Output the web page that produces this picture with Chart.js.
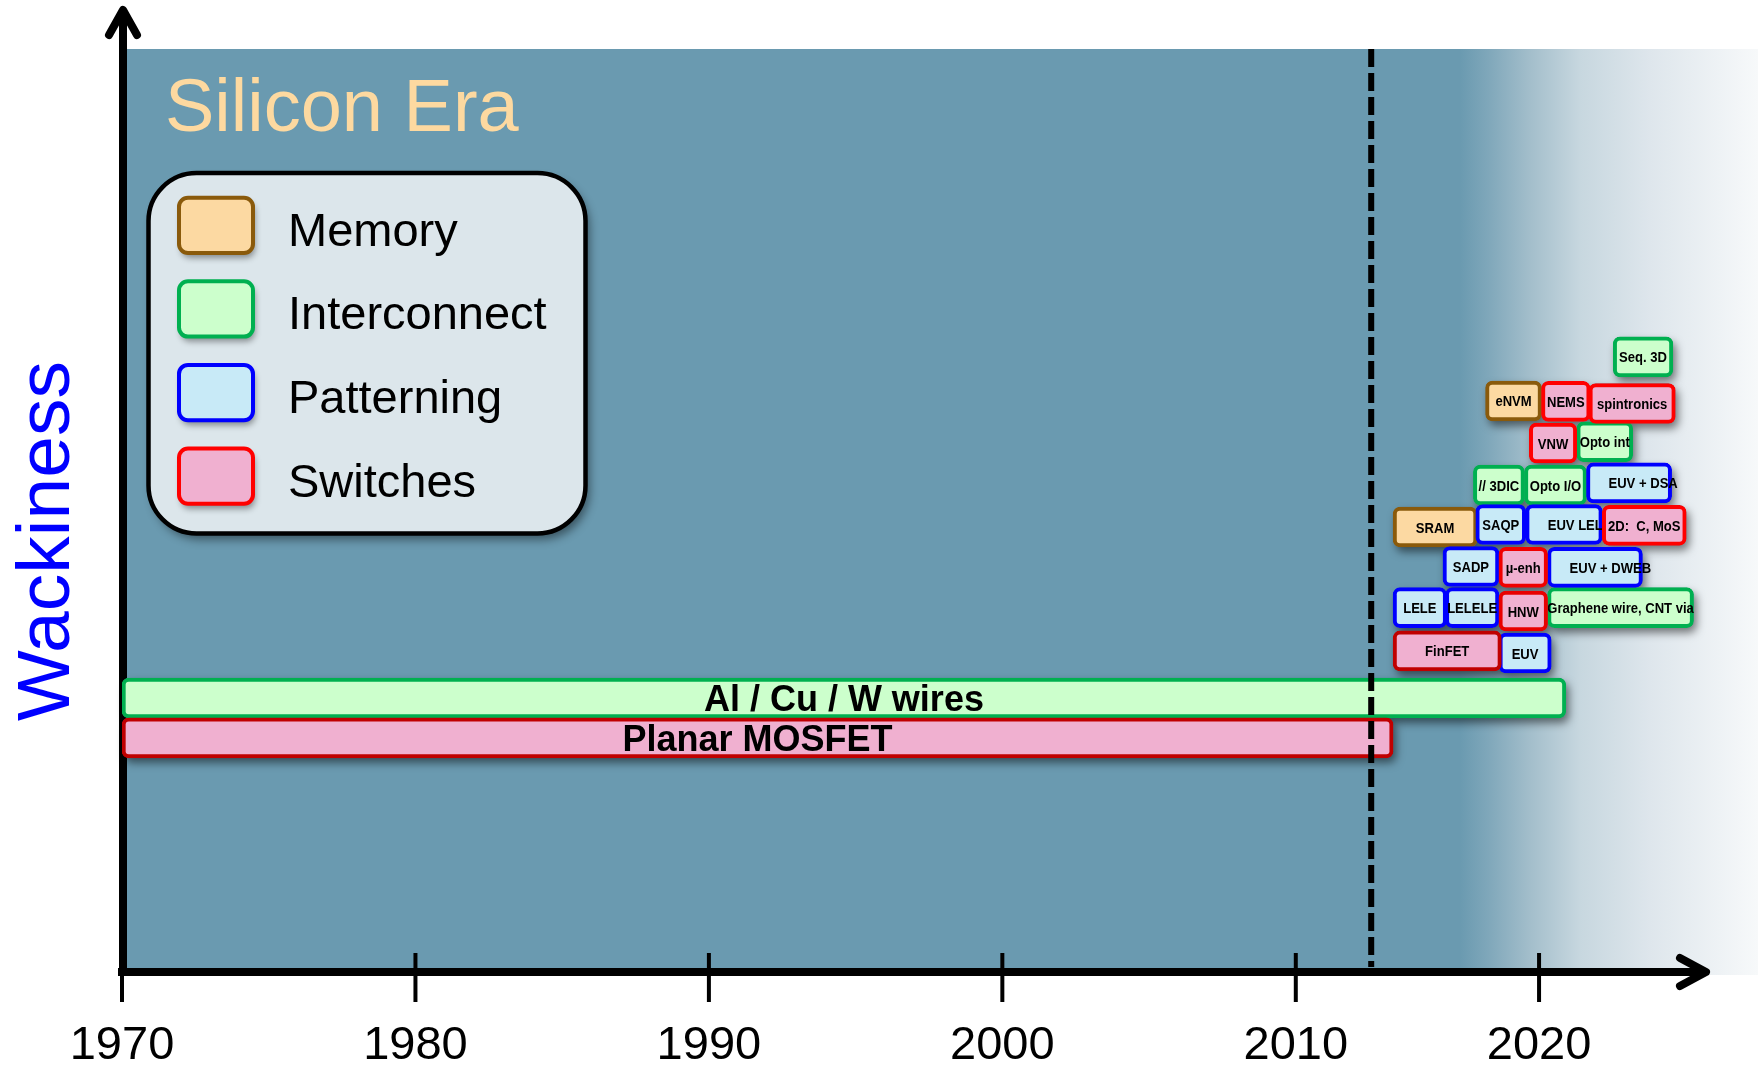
<!DOCTYPE html>
<html>
<head>
<meta charset="utf-8">
<title>Silicon Era</title>
<script src="https://cdn.jsdelivr.net/npm/chart.js"></script>
<style>
  html, body { margin: 0; padding: 0; background: #ffffff; }
  #wrap { position: relative; width: 1758px; height: 1068px; }
</style>
</head>
<body>
<div id="wrap"><canvas id="timeline"></canvas></div>
<script>
// ---- data -------------------------------------------------------------
const categories = ['Memory', 'Interconnect', 'Patterning', 'Switches'];
const tickYears = [1970, 1980, 1990, 2000, 2010, 2020];
const dividerYear = 2013.1;

const memoryNames = ['SRAM', 'eNVM'];
const memoryStart = [2014.0, 2017.8];
const memoryEnd   = [2017.45, 2020.1];
const memoryLevel = [5.02, 8.02];

const interconnectNames = ['Al / Cu / W wires', 'Graphene wire, CNT via', '// 3DIC', 'Opto I/O', 'Opto int', 'Seq. 3D'];
const interconnectStart = [1970, 2020.35, 2017.3, 2019.4, 2021.55, 2023.05];
const interconnectEnd   = [2021.1, 2026.35, 2019.4, 2021.95, 2023.85, 2025.5];
const interconnectLevel = [0.95, 3.1, 6.02, 6.02, 7.05, 9.07];

const patterningNames = ['EUV', 'LELE', 'LELELE', 'SADP', 'EUV + DWEB', 'SAQP', 'EUV LELE', 'EUV + DSA'];
const patterningStart = [2018.35, 2014.0, 2016.15, 2016.05, 2020.35, 2017.4, 2019.45, 2021.95];
const patterningEnd   = [2020.5, 2016.2, 2018.35, 2018.35, 2024.25, 2019.45, 2022.6, 2025.45];
const patterningLevel = [2.02, 3.1, 3.1, 4.08, 4.06, 5.08, 5.08, 6.07];

const switchesNames = ['Planar MOSFET', 'FinFET', 'HNW', 'µ-enh', '2D:  C, MoS', 'VNW', 'NEMS', 'spintronics'];
const switchesStart = [1970, 2014.0, 2018.35, 2018.35, 2022.6, 2019.6, 2020.1, 2022.05];
const switchesEnd   = [2014.0, 2018.45, 2020.35, 2020.35, 2026.05, 2021.55, 2022.1, 2025.6];
const switchesLevel = [0, 2.07, 3.02, 4.06, 5.06, 7.02, 8.01, 7.96];

// ---- styles -----------------------------------------------------------
const FONT = '"Liberation Sans", Arial, Helvetica, sans-serif';
const PANEL = '#6A9AB0';
const fillColors = ['#FCD9A2', '#CCFFCC', '#C8EAF7', '#F0B0D0'];
const edgeColors = ['#8A5A0B', '#00B050', '#0000FF', '#FF0000'];
const switchesEdge = ['#C00000', '#C00000', '#E80000', '#F00000', '#FF0000', '#FF0000', '#FF0000', '#FF0000'];
// labels set flush-left inside their box instead of centred
const indentedLabels = ['EUV LELE', 'EUV + DWEB', 'EUV + DSA'];

// ---- year axis: 1970-2010 at full pitch, later years compressed ---------
const WARP_YEAR = 2010;
const WARP_RATIO = 0.829;
class WarpedYearScale extends Chart.LinearScale {
  _warp(v) {
    const k = WARP_YEAR - this.min;
    const d = v - this.min;
    return d <= k ? d : k + (d - k) * WARP_RATIO;
  }
  getPixelForValue(value) {
    return this.getPixelForDecimal(this._warp(value) / this._warp(this.max));
  }
  getValueForPixel(pixel) {
    const u = this.getDecimalForPixel(pixel) * this._warp(this.max);
    const k = WARP_YEAR - this.min;
    return this.min + (u <= k ? u : k + (u - k) / WARP_RATIO);
  }
}
WarpedYearScale.id = 'warpedYear';
WarpedYearScale.defaults = Chart.LinearScale.defaults;
Chart.register(WarpedYearScale);

function makeBars(names, starts, ends, levels) {
  return names.map((name, i) => ({ x: [starts[i], ends[i]], y: levels[i], name }));
}

const series = [
  makeBars(memoryNames, memoryStart, memoryEnd, memoryLevel),
  makeBars(interconnectNames, interconnectStart, interconnectEnd, interconnectLevel),
  makeBars(patterningNames, patterningStart, patterningEnd, patterningLevel),
  makeBars(switchesNames, switchesStart, switchesEnd, switchesLevel)
];

const datasets = categories.map((label, i) => ({
  label,
  data: series[i],
  backgroundColor: fillColors[i],
  borderColor: label === 'Switches' ? (c => switchesEdge[c.dataIndex]) : edgeColors[i],
  borderWidth: 4,
  borderRadius: 7,
  borderSkipped: false,
  barThickness: 40,
  stack: 'timeline',
  order: categories.length - 1 - i
}));

// ---- decoration: panel, axes, shadows, labels, legend -------------------
const decor = {
  id: 'decor',
  beforeDraw(chart) {
    const { ctx, chartArea: a, width, height } = chart;
    ctx.save();
    ctx.fillStyle = '#ffffff';
    ctx.fillRect(0, 0, width, height);
    const g = ctx.createLinearGradient(a.left, 0, width, 0);
    const stop = (px, c) => g.addColorStop((px - a.left) / (width - a.left), c);
    stop(a.left, PANEL);
    stop(1460, PANEL);
    stop(1488, '#7FA7BA');
    stop(1530, '#A3BECB');
    stop(1580, '#C7D7DF');
    stop(1650, '#DEE6EC');
    stop(width, '#F7F9FA');
    ctx.fillStyle = g;
    ctx.fillRect(a.left, a.top, width - a.left, a.bottom + 4 - a.top);
    ctx.restore();
  },
  beforeDatasetsDraw(chart) {
    const { ctx, chartArea: a, scales: { x } } = chart;
    ctx.save();
    ctx.strokeStyle = '#000';
    ctx.lineJoin = 'round';
    // tick marks
    ctx.lineWidth = 4;
    ctx.lineCap = 'butt';
    x.ticks.forEach((t, i) => {
      const px = x.getPixelForTick(i);
      ctx.beginPath();
      ctx.moveTo(px, a.bottom - 18);
      ctx.lineTo(px, a.bottom + 31);
      ctx.stroke();
    });
    // vertical axis with arrow
    ctx.lineWidth = 8;
    const ax = a.left + 1;
    ctx.beginPath();
    ctx.moveTo(ax, a.bottom + 5);
    ctx.lineTo(ax, 14);
    ctx.stroke();
    ctx.lineCap = 'round';
    ctx.beginPath();
    ctx.moveTo(ax - 14, 35);
    ctx.lineTo(ax, 10);
    ctx.lineTo(ax + 14, 35);
    ctx.stroke();
    // horizontal axis with arrow
    ctx.lineCap = 'butt';
    const ay = a.bottom + 1;
    ctx.beginPath();
    ctx.moveTo(a.left - 4, ay);
    ctx.lineTo(1702, ay);
    ctx.stroke();
    ctx.lineCap = 'round';
    ctx.beginPath();
    ctx.moveTo(1680, ay - 14);
    ctx.lineTo(1706, ay);
    ctx.lineTo(1680, ay + 14);
    ctx.stroke();
    ctx.restore();

    // drop shadows under every box
    ctx.save();
    ctx.shadowColor = 'rgba(0,0,0,0.5)';
    ctx.shadowBlur = 8;
    ctx.shadowOffsetX = 3;
    ctx.shadowOffsetY = 5;
    ctx.fillStyle = PANEL;
    chart.getSortedVisibleDatasetMetas().forEach(meta => {
      meta.data.forEach(el => {
        const { x: ex, y, base, height } = el.getProps(['x', 'y', 'base', 'height'], true);
        ctx.beginPath();
        ctx.roundRect(Math.min(ex, base), y - height / 2, Math.abs(ex - base), height, 7);
        ctx.fill();
      });
    });
    ctx.restore();
  },
  afterDatasetDraw(chart, args) {
    const { ctx } = chart;
    const ds = chart.data.datasets[args.index];
    args.meta.data.forEach((el, j) => {
      const { x: ex, y, base } = el.getProps(['x', 'y', 'base'], true);
      const item = ds.data[j];
      const left = Math.min(ex, base);
      ctx.save();
      ctx.fillStyle = '#000';
      ctx.textBaseline = 'alphabetic';
      if ((item.x[1] - item.x[0]) > 20) {
        ctx.font = `bold 36px ${FONT}`;
        ctx.textAlign = 'center';
        ctx.fillText(item.name, (ex + base) / 2, y + 13);
      } else {
        const indent = indentedLabels.includes(item.name);
        ctx.font = `bold 15px ${FONT}`;
        ctx.textAlign = indent ? 'left' : 'center';
        ctx.translate(indent ? left + 22 : (ex + base) / 2, y + 5.5);
        ctx.scale(0.87, 1);
        ctx.fillText(item.name, 0, 0);
      }
      ctx.restore();
    });
  },
  afterDatasetsDraw(chart) {
    const { ctx, chartArea: a, scales: { x } } = chart;
    // present-day divider
    ctx.save();
    ctx.strokeStyle = '#000';
    ctx.lineWidth = 6;
    ctx.setLineDash([18, 6]);
    const dx = x.getPixelForValue(dividerYear);
    ctx.beginPath();
    ctx.moveTo(dx, a.top);
    ctx.lineTo(dx, a.bottom - 4);
    ctx.stroke();
    ctx.restore();

    // era title
    ctx.save();
    ctx.fillStyle = '#FDD9A0';
    ctx.font = `74px ${FONT}`;
    ctx.textAlign = 'left';
    ctx.textBaseline = 'alphabetic';
    ctx.fillText('Silicon Era', 165, 131);
    ctx.restore();

    // legend panel
    ctx.save();
    ctx.shadowColor = 'rgba(0,0,0,0.45)';
    ctx.shadowBlur = 10;
    ctx.shadowOffsetX = 4;
    ctx.shadowOffsetY = 6;
    ctx.beginPath();
    ctx.roundRect(148.5, 173, 437, 360.5, 48);
    ctx.fillStyle = '#DCE6EB';
    ctx.fill();
    ctx.shadowColor = 'rgba(0,0,0,0)';
    ctx.lineWidth = 4.5;
    ctx.strokeStyle = '#000';
    ctx.stroke();
    ctx.restore();

    categories.forEach((name, i) => {
      const top = 195.7 + i * 83.6;
      ctx.save();
      ctx.shadowColor = 'rgba(0,0,0,0.4)';
      ctx.shadowBlur = 6;
      ctx.shadowOffsetX = 2;
      ctx.shadowOffsetY = 5;
      ctx.beginPath();
      ctx.roundRect(179, top + 2, 74, 55.3, 9);
      ctx.fillStyle = fillColors[i];
      ctx.fill();
      ctx.shadowColor = 'rgba(0,0,0,0)';
      ctx.lineWidth = 4;
      ctx.strokeStyle = edgeColors[i];
      ctx.stroke();
      ctx.fillStyle = '#000';
      ctx.font = `47px ${FONT}`;
      ctx.textAlign = 'left';
      ctx.textBaseline = 'alphabetic';
      ctx.fillText(name, 288, top + 50);
      ctx.restore();
    });

    // vertical axis title
    ctx.save();
    ctx.translate(69, 541);
    ctx.rotate(-Math.PI / 2);
    ctx.fillStyle = '#0000FF';
    ctx.font = `75px ${FONT}`;
    ctx.textAlign = 'center';
    ctx.textBaseline = 'alphabetic';
    ctx.fillText('Wackiness', 0, 0);
    ctx.restore();
  }
};

new Chart(document.getElementById('timeline'), {
  type: 'bar',
  data: { datasets },
  options: {
    indexAxis: 'y',
    animation: false,
    responsive: true,
    maintainAspectRatio: false,
    layout: { padding: { left: 122, top: 49, right: 0, bottom: 0 } },
    plugins: {
      legend: { display: false },
      tooltip: { enabled: false }
    },
    scales: {
      x: {
        type: 'warpedYear',
        position: 'bottom',
        min: 1970,
        max: 2029,
        bounds: 'data',
        stacked: false,
        offset: false,
        grid: { display: false, drawTicks: false },
        border: { display: false },
        ticks: {
          autoSkip: false,
          maxRotation: 0,
          padding: 52,
          color: '#000',
          font: { family: FONT, size: 47, lineHeight: 1 },
          callback: v => String(v)
        },
        afterBuildTicks: scale => { scale.ticks = tickYears.map(value => ({ value })); },
        afterFit: scale => { scale.height = 97; }
      },
      y: {
        type: 'linear',
        min: -5.55,
        max: 16.4,
        bounds: 'data',
        offset: false,
        grid: { offset: false },
        display: false
      }
    }
  },
  plugins: [decor]
});
</script>
</body>
</html>
